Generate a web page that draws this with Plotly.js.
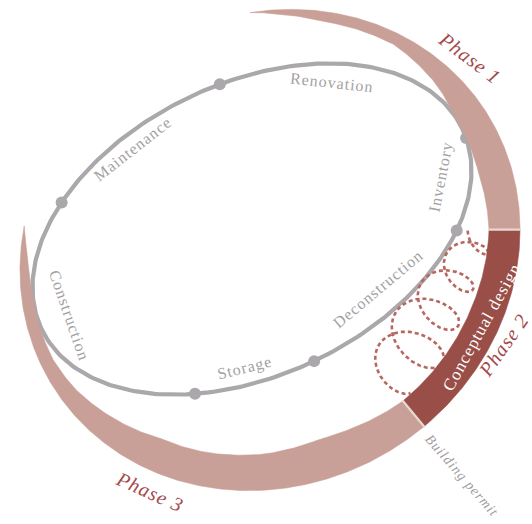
<!DOCTYPE html>
<html><head><meta charset="utf-8">
<script src="https://cdn.plot.ly/plotly-3.0.1.min.js"></script>
<style>
html,body{margin:0;padding:0;background:#fff;overflow:hidden;}
#chart{width:532px;height:524px;}
.annotation-text{letter-spacing:1px;}
</style>
</head><body><div id="chart"></div>
<script>
// ---------------- data ----------------
const stages = ["Renovation","Inventory","Deconstruction","Storage","Construction","Maintenance"];
const stageNodeAngles = [-81.8, 3.9, 37.8, 90.2, 121.7, 226.5];      // nodes on the life-cycle loop (deg)
const stageLabelAngles = [-52, 19.9, 65.8, 107.4, 180.3, 251];        // where each stage name sits (deg)
const phases = ["Phase 1","Phase 2","Phase 3"];
const phaseStartAngles = [-64.2, 30.3, 82.3];                          // along the outer band (deg)
const phaseEndAngle = 220.9;
const phaseLabelAngles = [-12, 57, 147];
const phase2Task = "Conceptual design";
const phase2TaskAngle = 55.6;
const milestone = "Building permit";
const milestoneAngle = 82.8;
const iterStart = -0.4, iterEnd = 3.95;                                // turns of the design iteration coil

// ---------------- geometry / style ----------------
const LOOP = {cx:252, cy:229, a:233, b:146, rot:-25.5};
const BAND = {cx:270, cy:250, a:256.4, b:233.8, rot:-32.7};
const thkAng = [-64.2,-55,-45.6,-28.6,-14.5,-2.2,15,30.3,51.7,82.3,97.9,106,121,137,150,165.5,177,186.6,195.4,203.3,207.3,214,220.9];
const thk    = [0,6,10,11.5,20,29,33,31,33,33,38,40,36,34,33,24,17,13,12,11,10,7,0];
const stageLabelOffset = [19,30,26,17,31,15];
const stageTextAngle = [6,-79,-40,-14,71,-38];
const phaseLabelOffset = [22,11,20];
const phaseTextAngle = [37,-55,24];
const COIL = {sx:474, sy:245, dx:-61, dy:100, step:39, r0:16, r1:35, rEnd:24, squash:0.7};
const GRAY = '#aba8ab', GRAYTXT = '#a4a1a3';
const PINK = '#c8a097', DARK = '#994e48', SEP = '#ead7d2', RED = '#a4494b', DOT = '#b7675f';
const FONT = 'Liberation Serif, Times New Roman, serif';

const deg = Math.PI/180;
function frame(E){ const r=E.rot*deg; return {eu:[Math.cos(r),Math.sin(r)], ev:[-Math.sin(r),Math.cos(r)]}; }
function pt(E, th){ const f=frame(E), t=th*deg; const c=Math.cos(t)*E.a, s=Math.sin(t)*E.b;
  return [E.cx + c*f.eu[0] + s*f.ev[0], E.cy + c*f.eu[1] + s*f.ev[1]]; }
function nrm(E, th){ const f=frame(E), t=th*deg; const c=Math.cos(t)/E.a, s=Math.sin(t)/E.b;
  const x=c*f.eu[0]+s*f.ev[0], y=c*f.eu[1]+s*f.ev[1]; const L=Math.hypot(x,y); return [x/L,y/L]; }
function interp(xs, ys, x){ if(x<=xs[0]) return ys[0];
  for(let i=1;i<xs.length;i++){ if(x<=xs[i]){ const f=(x-xs[i-1])/(xs[i]-xs[i-1]); return ys[i-1]+f*(ys[i]-ys[i-1]); } }
  return ys[ys.length-1]; }
function bandPoly(t1,t2){ const xs=[],ys=[]; const n=Math.max(2,Math.ceil((t2-t1)/0.5));
  for(let i=0;i<=n;i++){ const th=t1+(t2-t1)*i/n; const p=pt(BAND,th); xs.push(p[0]); ys.push(p[1]); }
  for(let i=n;i>=0;i--){ const th=t1+(t2-t1)*i/n; const p=pt(BAND,th), q=nrm(BAND,th), w=interp(thkAng,thk,th);
    xs.push(p[0]-q[0]*w); ys.push(p[1]-q[1]*w); }
  xs.push(xs[0]); ys.push(ys[0]);
  return {xs,ys}; }

const traces = [];
// life-cycle loop
{ const xs=[],ys=[]; for(let th=0;th<=360;th+=1){ const p=pt(LOOP,th); xs.push(p[0]); ys.push(p[1]); }
  traces.push({type:'scatter',mode:'lines',x:xs,y:ys,line:{color:GRAY,width:4.2},hoverinfo:'skip'}); }
// nodes
traces.push({type:'scatter',mode:'markers',x:stageNodeAngles.map(t=>pt(LOOP,t)[0]),y:stageNodeAngles.map(t=>pt(LOOP,t)[1]),
  marker:{color:GRAY,size:12},hoverinfo:'skip'});
// design iteration coil (dotted loops)
{ const L=Math.hypot(COIL.dx,COIL.dy); const a=[COIL.dx/L,COIL.dy/L], p=[a[1],-a[0]]; const xs=[],ys=[];
  for(let t=iterStart;t<=iterEnd;t+=0.004){ const ang=2*Math.PI*t+Math.PI/2;
    let rP=COIL.r0+(COIL.r1-COIL.r0)*Math.min(Math.max(t,0),3)/3;
    if(t>3) rP = COIL.r1 + (COIL.rEnd-COIL.r1)*(t-3)/(iterEnd-3);
    const rA=rP*COIL.squash;
    const s=COIL.step*t + rA*Math.cos(ang), q=rP*Math.sin(ang);
    xs.push(COIL.sx+a[0]*s+p[0]*q); ys.push(COIL.sy+a[1]*s+p[1]*q); }
  traces.push({type:'scatter',mode:'lines',x:xs,y:ys,line:{color:DOT,width:2.6,dash:'4px,3px'},hoverinfo:'skip'}); }
// phase bands
const bounds = phaseStartAngles.concat([phaseEndAngle]);
phases.forEach((ph,i)=>{ const b=bandPoly(bounds[i],bounds[i+1]); const col = i===1?DARK:PINK;
  traces.push({type:'scatter',mode:'lines',x:b.xs,y:b.ys,fill:'toself',fillcolor:col,line:{color:col,width:0.6},hoverinfo:'skip'}); });
// separators
[1,2].forEach(i=>{ const th=bounds[i]; const p=pt(BAND,th), q=nrm(BAND,th), w=interp(thkAng,thk,th);
  traces.push({type:'scatter',mode:'lines',x:[p[0]+q[0],p[0]-q[0]*(w+1)],y:[p[1]+q[1],p[1]-q[1]*(w+1)],line:{color:SEP,width:2.2},hoverinfo:'skip'}); });

const ann = [];
stages.forEach((s,i)=>{ const th=stageLabelAngles[i]; const p=pt(LOOP,th), q=nrm(LOOP,th), o=stageLabelOffset[i];
  ann.push({x:p[0]-q[0]*o,y:p[1]-q[1]*o,xref:'x',yref:'y',text:s,showarrow:false,textangle:stageTextAngle[i],
    font:{family:FONT,size:16,color:GRAYTXT}}); });
phases.forEach((s,i)=>{ const th=phaseLabelAngles[i]; const p=pt(BAND,th), q=nrm(BAND,th), o=phaseLabelOffset[i];
  ann.push({x:p[0]+q[0]*o,y:p[1]+q[1]*o,xref:'x',yref:'y',text:'<i>'+s+'</i>',showarrow:false,textangle:phaseTextAngle[i],
    font:{family:FONT,size:20,color:RED}}); });
{ const th=phase2TaskAngle; const p=pt(BAND,th), q=nrm(BAND,th), w=interp(thkAng,thk,th);
  ann.push({x:p[0]-q[0]*w/2,y:p[1]-q[1]*w/2,xref:'x',yref:'y',text:phase2Task,showarrow:false,textangle:-61,
    font:{family:FONT,size:17,color:'#ffffff'}}); }
{ const th=milestoneAngle; const p=pt(BAND,th), q=nrm(BAND,th);
  ann.push({x:p[0]+q[0]*62,y:p[1]+q[1]*62,xref:'x',yref:'y',text:'<i>'+milestone+'</i>',showarrow:false,textangle:49,
    font:{family:FONT,size:14,color:'#9f9c9e'}}); }

Plotly.newPlot('chart', traces, {
  width:532, height:524, margin:{l:0,r:0,t:0,b:0}, showlegend:false,
  paper_bgcolor:'#ffffff', plot_bgcolor:'#ffffff',
  xaxis:{range:[0,532],visible:false,fixedrange:true},
  yaxis:{range:[524,0],visible:false,fixedrange:true},
  annotations:ann
}, {staticPlot:true, displayModeBar:false});
</script>
</body></html>
